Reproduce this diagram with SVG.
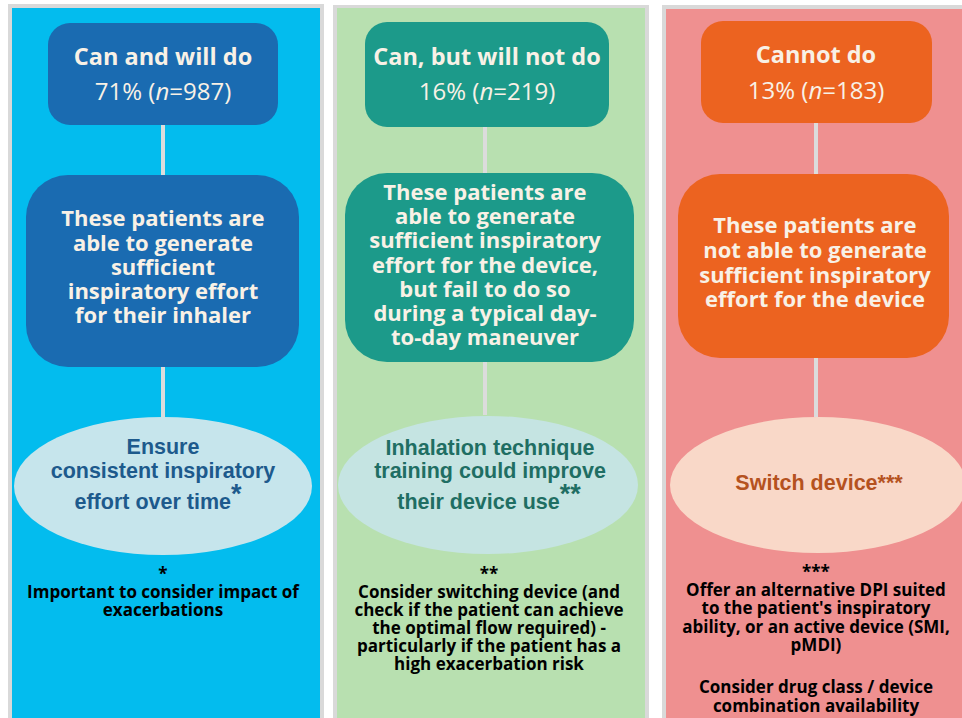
<svg xmlns="http://www.w3.org/2000/svg" width="962" height="718" viewBox="0 0 962 718">
  <style>
    .frame { fill: #d9d9d9; }
    .link { stroke: #dcdcdc; stroke-width: 4; fill: none; }
    .head { font-family: "Open Sans", Lato, sans-serif; font-weight: 700; font-size: 23.5px; fill: #f8f1e6; text-anchor: middle; }
    .stat { font-family: "Open Sans", Lato, sans-serif; font-weight: 400; font-size: 24px; fill: #f8f1e6; text-anchor: middle; }
    .desc { font-family: "Open Sans", Lato, sans-serif; font-weight: 700; font-size: 22px; fill: #f8f1e6; text-anchor: middle; }
    .act { font-family: "Liberation Sans", Arial, sans-serif; font-weight: 700; font-size: 21.5px; text-anchor: middle; }
    .sup { font-size: 27px; }
    .note { font-family: "Open Sans", Lato, sans-serif; font-weight: 700; font-size: 17px; fill: #000; text-anchor: middle; }
  </style>

  <rect width="962" height="718" fill="#ffffff"/>

  <!-- column panels -->
  <g id="panels">
    <rect class="frame" x="8" y="4" width="316" height="714"/>
    <rect x="12" y="8" width="308" height="710" fill="#03bcee"/>
    <rect class="frame" x="333" y="5" width="316" height="713"/>
    <rect x="337" y="8" width="308" height="710" fill="#b8e0b0"/>
    <rect class="frame" x="662" y="5" width="300" height="713"/>
    <rect x="666" y="9" width="296" height="709" fill="#ef9090"/>
  </g>

  <!-- connectors -->
  <g id="connectors">
    <line class="link" x1="163" y1="125" x2="163" y2="175"/>
    <line class="link" x1="163" y1="367" x2="163" y2="417"/>
    <line class="link" x1="485" y1="127" x2="485" y2="173"/>
    <line class="link" x1="485" y1="362" x2="485" y2="415"/>
    <line class="link" x1="816" y1="123" x2="816" y2="174"/>
    <line class="link" x1="816" y1="358" x2="816" y2="417"/>
  </g>

  <!-- column 1 -->
  <g id="can-will-head">
    <rect x="48" y="23" width="230" height="102" rx="22" fill="#1a6bb1"/>
    <text class="head" x="163" y="65">Can and will do</text>
    <text class="stat" x="163" y="100">71% (<tspan font-style="italic">n</tspan>=987)</text>
  </g>
  <g id="can-will-desc">
    <rect x="26" y="175" width="273" height="192" rx="42" fill="#1a6bb1"/>
    <text class="desc" x="163" y="226">These patients are</text>
    <text class="desc" x="163" y="251">able to generate</text>
    <text class="desc" x="163" y="275">sufficient</text>
    <text class="desc" x="163" y="299">inspiratory effort</text>
    <text class="desc" x="163" y="323">for their inhaler</text>
  </g>
  <g id="can-will-action">
    <ellipse cx="163" cy="486" rx="149" ry="69" fill="#c6e5ec"/>
    <text class="act" x="163" y="454" fill="#1d5a8c">Ensure</text>
    <text class="act" x="163" y="478" fill="#1d5a8c">consistent inspiratory</text>
    <text class="act" x="158" y="509" fill="#1d5a8c">effort over time<tspan class="sup" dy="-6">*</tspan></text>
  </g>
  <g id="can-will-note">
    <text class="note" x="163" y="580">*</text>
    <text class="note" x="163" y="598">Important to consider impact of</text>
    <text class="note" x="163" y="616">exacerbations</text>
  </g>

  <!-- column 2 -->
  <g id="can-wont-head">
    <rect x="365" y="22" width="244" height="105" rx="22" fill="#1c9a8a"/>
    <text class="head" x="487" y="65">Can, but will not do</text>
    <text class="stat" x="487" y="100">16% (<tspan font-style="italic">n</tspan>=219)</text>
  </g>
  <g id="can-wont-desc">
    <rect x="345" y="173" width="289" height="189" rx="42" fill="#1c9a8a"/>
    <text class="desc" x="485" y="200">These patients are</text>
    <text class="desc" x="485" y="224">able to generate</text>
    <text class="desc" x="485" y="248">sufficient inspiratory</text>
    <text class="desc" x="485" y="273">effort for the device,</text>
    <text class="desc" x="485" y="297">but fail to do so</text>
    <text class="desc" x="485" y="321">during a typical day-</text>
    <text class="desc" x="485" y="345">to-day maneuver</text>
  </g>
  <g id="can-wont-action">
    <ellipse cx="488" cy="485" rx="150" ry="69" fill="#c5e4e2"/>
    <text class="act" x="490" y="455" fill="#1f6e63">Inhalation technique</text>
    <text class="act" x="490" y="478" fill="#1f6e63">training could improve</text>
    <text class="act" x="489" y="509" fill="#1f6e63">their device use<tspan class="sup" dy="-6">**</tspan></text>
  </g>
  <g id="can-wont-note">
    <text class="note" x="489" y="580">**</text>
    <text class="note" x="489" y="598">Consider switching device (and</text>
    <text class="note" x="489" y="616">check if the patient can achieve</text>
    <text class="note" x="489" y="634">the optimal flow required) -</text>
    <text class="note" x="489" y="652">particularly if the patient has a</text>
    <text class="note" x="489" y="670">high exacerbation risk</text>
  </g>

  <!-- column 3 -->
  <g id="cannot-head">
    <rect x="701" y="21" width="231" height="102" rx="22" fill="#ec6320"/>
    <text class="head" x="816" y="63">Cannot do</text>
    <text class="stat" x="816" y="99">13% (<tspan font-style="italic">n</tspan>=183)</text>
  </g>
  <g id="cannot-desc">
    <rect x="678" y="174" width="271" height="184" rx="42" fill="#ec6320"/>
    <text class="desc" x="815" y="233">These patients are</text>
    <text class="desc" x="815" y="258">not able to generate</text>
    <text class="desc" x="815" y="283">sufficient inspiratory</text>
    <text class="desc" x="815" y="307">effort for the device</text>
  </g>
  <g id="cannot-action">
    <ellipse cx="818" cy="485" rx="148" ry="68" fill="#f9d8c8"/>
    <text class="act" x="819" y="490" fill="#b5521f">Switch device***</text>
  </g>
  <g id="cannot-note">
    <text class="note" x="816" y="578">***</text>
    <text class="note" x="816" y="596">Offer an alternative DPI suited</text>
    <text class="note" x="816" y="614">to the patient's inspiratory</text>
    <text class="note" x="816" y="633">ability, or an active device (SMI,</text>
    <text class="note" x="816" y="651">pMDI)</text>
    <text class="note" x="816" y="693">Consider drug class / device</text>
    <text class="note" x="816" y="712">combination availability</text>
  </g>
</svg>
